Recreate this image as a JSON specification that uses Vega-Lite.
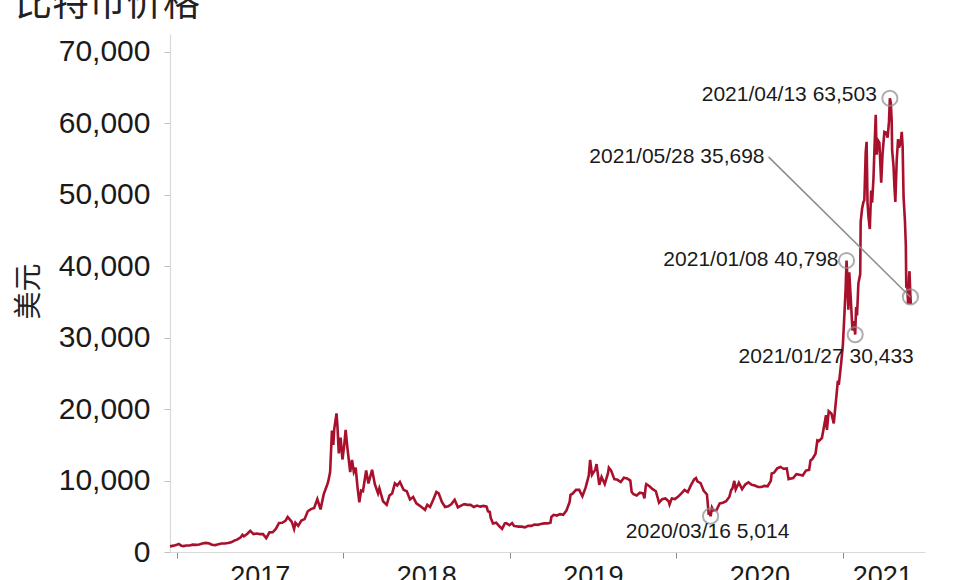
{
  "$schema": "https://vega.github.io/schema/vega-lite/v6.json",
  "width": 755,
  "height": 518,
  "autosize": {"type": "none"},
  "padding": {"left": 170, "top": 34, "right": 35, "bottom": 28},
  "background": "white",
  "config": {"view": {"stroke": null}},
  "title": {"text": "比特币价格", "anchor": "start", "offset": 10, "font": "Noto Sans CJK SC", "fontSize": 37, "fontWeight": "normal", "color": "#222222"},
  "datasets": {
    "prices": [
      {"d": "2016-12-17", "p": 790}, {"d": "2016-12-25", "p": 890}, {"d": "2017-01-01", "p": 1000}, {"d": "2017-01-05", "p": 1130},
      {"d": "2017-01-11", "p": 880}, {"d": "2017-01-15", "p": 820}, {"d": "2017-01-22", "p": 920}, {"d": "2017-01-29", "p": 920},
      {"d": "2017-02-05", "p": 1030}, {"d": "2017-02-12", "p": 1000}, {"d": "2017-02-19", "p": 1060}, {"d": "2017-02-26", "p": 1180},
      {"d": "2017-03-05", "p": 1270}, {"d": "2017-03-12", "p": 1230}, {"d": "2017-03-19", "p": 1020}, {"d": "2017-03-26", "p": 960},
      {"d": "2017-04-02", "p": 1100}, {"d": "2017-04-09", "p": 1190}, {"d": "2017-04-16", "p": 1180}, {"d": "2017-04-23", "p": 1250},
      {"d": "2017-04-30", "p": 1350}, {"d": "2017-05-07", "p": 1600}, {"d": "2017-05-14", "p": 1770}, {"d": "2017-05-21", "p": 2050},
      {"d": "2017-05-25", "p": 2400}, {"d": "2017-05-28", "p": 2200}, {"d": "2017-06-04", "p": 2520}, {"d": "2017-06-11", "p": 2960},
      {"d": "2017-06-18", "p": 2510}, {"d": "2017-06-25", "p": 2590}, {"d": "2017-07-02", "p": 2500}, {"d": "2017-07-09", "p": 2500},
      {"d": "2017-07-16", "p": 1930}, {"d": "2017-07-23", "p": 2750}, {"d": "2017-07-30", "p": 2760}, {"d": "2017-08-06", "p": 3230},
      {"d": "2017-08-13", "p": 4070}, {"d": "2017-08-20", "p": 4090}, {"d": "2017-08-27", "p": 4350}, {"d": "2017-09-01", "p": 4890},
      {"d": "2017-09-05", "p": 4600}, {"d": "2017-09-10", "p": 4230}, {"d": "2017-09-15", "p": 3230}, {"d": "2017-09-18", "p": 4100},
      {"d": "2017-09-24", "p": 3660}, {"d": "2017-10-01", "p": 4400}, {"d": "2017-10-08", "p": 4600}, {"d": "2017-10-15", "p": 5700},
      {"d": "2017-10-22", "p": 6000}, {"d": "2017-10-29", "p": 6150}, {"d": "2017-11-05", "p": 7400}, {"d": "2017-11-12", "p": 5950},
      {"d": "2017-11-19", "p": 8100}, {"d": "2017-11-26", "p": 9300}, {"d": "2017-11-29", "p": 9900}, {"d": "2017-12-03", "p": 11200},
      {"d": "2017-12-07", "p": 17000}, {"d": "2017-12-10", "p": 15000}, {"d": "2017-12-12", "p": 17200}, {"d": "2017-12-17", "p": 19400},
      {"d": "2017-12-19", "p": 17700}, {"d": "2017-12-22", "p": 13800}, {"d": "2017-12-26", "p": 16000}, {"d": "2017-12-30", "p": 12950},
      {"d": "2018-01-03", "p": 15000}, {"d": "2018-01-06", "p": 17100}, {"d": "2018-01-10", "p": 14500}, {"d": "2018-01-16", "p": 11200},
      {"d": "2018-01-20", "p": 12900}, {"d": "2018-01-24", "p": 11200}, {"d": "2018-01-28", "p": 11800}, {"d": "2018-02-01", "p": 9100},
      {"d": "2018-02-05", "p": 6950}, {"d": "2018-02-09", "p": 8600}, {"d": "2018-02-13", "p": 8500}, {"d": "2018-02-20", "p": 11400},
      {"d": "2018-02-25", "p": 9600}, {"d": "2018-03-05", "p": 11500}, {"d": "2018-03-11", "p": 9500}, {"d": "2018-03-18", "p": 8200},
      {"d": "2018-03-21", "p": 8900}, {"d": "2018-03-29", "p": 7100}, {"d": "2018-04-06", "p": 6600}, {"d": "2018-04-12", "p": 7900},
      {"d": "2018-04-18", "p": 8200}, {"d": "2018-04-24", "p": 9600}, {"d": "2018-04-29", "p": 9300}, {"d": "2018-05-05", "p": 9800},
      {"d": "2018-05-13", "p": 8700}, {"d": "2018-05-20", "p": 8500}, {"d": "2018-05-27", "p": 7350}, {"d": "2018-06-03", "p": 7700},
      {"d": "2018-06-10", "p": 6800}, {"d": "2018-06-17", "p": 6500}, {"d": "2018-06-24", "p": 6150}, {"d": "2018-06-29", "p": 5900},
      {"d": "2018-07-04", "p": 6600}, {"d": "2018-07-10", "p": 6300}, {"d": "2018-07-17", "p": 7300}, {"d": "2018-07-24", "p": 8400},
      {"d": "2018-07-29", "p": 8200}, {"d": "2018-08-05", "p": 7000}, {"d": "2018-08-12", "p": 6300}, {"d": "2018-08-19", "p": 6400},
      {"d": "2018-08-26", "p": 6700}, {"d": "2018-09-02", "p": 7300}, {"d": "2018-09-09", "p": 6250}, {"d": "2018-09-16", "p": 6500},
      {"d": "2018-09-23", "p": 6700}, {"d": "2018-09-30", "p": 6600}, {"d": "2018-10-07", "p": 6600}, {"d": "2018-10-14", "p": 6300},
      {"d": "2018-10-21", "p": 6500}, {"d": "2018-10-28", "p": 6350}, {"d": "2018-11-04", "p": 6450}, {"d": "2018-11-11", "p": 6350},
      {"d": "2018-11-14", "p": 5700}, {"d": "2018-11-18", "p": 5600}, {"d": "2018-11-20", "p": 4800}, {"d": "2018-11-25", "p": 4000},
      {"d": "2018-12-02", "p": 4100}, {"d": "2018-12-09", "p": 3600}, {"d": "2018-12-15", "p": 3250}, {"d": "2018-12-21", "p": 4000},
      {"d": "2018-12-24", "p": 4050}, {"d": "2018-12-31", "p": 3750}, {"d": "2019-01-06", "p": 4050}, {"d": "2019-01-10", "p": 3650},
      {"d": "2019-01-20", "p": 3550}, {"d": "2019-01-27", "p": 3550}, {"d": "2019-02-03", "p": 3450}, {"d": "2019-02-10", "p": 3650},
      {"d": "2019-02-17", "p": 3650}, {"d": "2019-02-24", "p": 3850}, {"d": "2019-03-03", "p": 3800}, {"d": "2019-03-10", "p": 3920},
      {"d": "2019-03-17", "p": 4000}, {"d": "2019-03-24", "p": 4000}, {"d": "2019-03-31", "p": 4100}, {"d": "2019-04-02", "p": 4900},
      {"d": "2019-04-07", "p": 5200}, {"d": "2019-04-14", "p": 5100}, {"d": "2019-04-21", "p": 5300}, {"d": "2019-04-28", "p": 5200},
      {"d": "2019-05-05", "p": 5800}, {"d": "2019-05-12", "p": 7000}, {"d": "2019-05-14", "p": 8000}, {"d": "2019-05-19", "p": 8200},
      {"d": "2019-05-26", "p": 8700}, {"d": "2019-06-02", "p": 8700}, {"d": "2019-06-09", "p": 7800}, {"d": "2019-06-16", "p": 9000},
      {"d": "2019-06-23", "p": 10700}, {"d": "2019-06-26", "p": 12900}, {"d": "2019-06-30", "p": 10800}, {"d": "2019-07-07", "p": 11500},
      {"d": "2019-07-10", "p": 12300}, {"d": "2019-07-16", "p": 9400}, {"d": "2019-07-21", "p": 10500}, {"d": "2019-07-28", "p": 9500},
      {"d": "2019-08-04", "p": 11000}, {"d": "2019-08-06", "p": 11800}, {"d": "2019-08-11", "p": 11400}, {"d": "2019-08-18", "p": 10200},
      {"d": "2019-08-25", "p": 10100}, {"d": "2019-09-01", "p": 9800}, {"d": "2019-09-08", "p": 10400}, {"d": "2019-09-15", "p": 10300},
      {"d": "2019-09-22", "p": 10000}, {"d": "2019-09-25", "p": 8400}, {"d": "2019-09-29", "p": 8100}, {"d": "2019-10-06", "p": 7900},
      {"d": "2019-10-13", "p": 8300}, {"d": "2019-10-20", "p": 8200}, {"d": "2019-10-23", "p": 7500}, {"d": "2019-10-26", "p": 9250},
      {"d": "2019-10-27", "p": 9500}, {"d": "2019-11-03", "p": 9200}, {"d": "2019-11-10", "p": 8800}, {"d": "2019-11-17", "p": 8500},
      {"d": "2019-11-24", "p": 6900}, {"d": "2019-12-01", "p": 7400}, {"d": "2019-12-08", "p": 7500}, {"d": "2019-12-15", "p": 7100},
      {"d": "2019-12-17", "p": 6640}, {"d": "2019-12-22", "p": 7500}, {"d": "2019-12-29", "p": 7400}, {"d": "2020-01-05", "p": 7750},
      {"d": "2020-01-12", "p": 8200}, {"d": "2020-01-19", "p": 8700}, {"d": "2020-01-26", "p": 8400}, {"d": "2020-02-02", "p": 9350},
      {"d": "2020-02-09", "p": 10150}, {"d": "2020-02-13", "p": 10350}, {"d": "2020-02-16", "p": 9900}, {"d": "2020-02-23", "p": 9650},
      {"d": "2020-03-01", "p": 8550}, {"d": "2020-03-08", "p": 8050}, {"d": "2020-03-12", "p": 5200}, {"d": "2020-03-13", "p": 5600},
      {"d": "2020-03-16", "p": 5014}, {"d": "2020-03-19", "p": 6200}, {"d": "2020-03-22", "p": 5830}, {"d": "2020-03-29", "p": 5880},
      {"d": "2020-04-05", "p": 6800}, {"d": "2020-04-12", "p": 6900}, {"d": "2020-04-19", "p": 7100}, {"d": "2020-04-26", "p": 7700},
      {"d": "2020-04-30", "p": 8650}, {"d": "2020-05-03", "p": 8900}, {"d": "2020-05-07", "p": 9950}, {"d": "2020-05-10", "p": 8750},
      {"d": "2020-05-17", "p": 9700}, {"d": "2020-05-24", "p": 8800}, {"d": "2020-05-31", "p": 9450}, {"d": "2020-06-07", "p": 9750},
      {"d": "2020-06-14", "p": 9400}, {"d": "2020-06-21", "p": 9300}, {"d": "2020-06-28", "p": 9100}, {"d": "2020-07-05", "p": 9100},
      {"d": "2020-07-12", "p": 9250}, {"d": "2020-07-19", "p": 9200}, {"d": "2020-07-26", "p": 9950}, {"d": "2020-07-28", "p": 11000},
      {"d": "2020-08-02", "p": 11100}, {"d": "2020-08-09", "p": 11700}, {"d": "2020-08-16", "p": 11900}, {"d": "2020-08-23", "p": 11650},
      {"d": "2020-08-30", "p": 11700}, {"d": "2020-09-03", "p": 10200}, {"d": "2020-09-06", "p": 10250}, {"d": "2020-09-13", "p": 10350},
      {"d": "2020-09-20", "p": 10900}, {"d": "2020-09-27", "p": 10800}, {"d": "2020-10-04", "p": 10700}, {"d": "2020-10-11", "p": 11400},
      {"d": "2020-10-18", "p": 11500}, {"d": "2020-10-21", "p": 12800}, {"d": "2020-10-25", "p": 13000}, {"d": "2020-11-01", "p": 13750},
      {"d": "2020-11-05", "p": 15600}, {"d": "2020-11-08", "p": 15500}, {"d": "2020-11-15", "p": 15950}, {"d": "2020-11-22", "p": 18400},
      {"d": "2020-11-24", "p": 19150}, {"d": "2020-11-26", "p": 17100}, {"d": "2020-11-30", "p": 19700}, {"d": "2020-12-06", "p": 19350},
      {"d": "2020-12-11", "p": 18000}, {"d": "2020-12-16", "p": 21300}, {"d": "2020-12-20", "p": 24000}, {"d": "2020-12-22", "p": 23400},
      {"d": "2020-12-27", "p": 26300}, {"d": "2020-12-31", "p": 29000}, {"d": "2021-01-03", "p": 32800}, {"d": "2021-01-06", "p": 36800},
      {"d": "2021-01-08", "p": 40798}, {"d": "2021-01-10", "p": 38300}, {"d": "2021-01-11", "p": 35500}, {"d": "2021-01-12", "p": 33900},
      {"d": "2021-01-14", "p": 39150}, {"d": "2021-01-17", "p": 35800}, {"d": "2021-01-21", "p": 31000}, {"d": "2021-01-24", "p": 32300},
      {"d": "2021-01-27", "p": 30433}, {"d": "2021-01-29", "p": 34300}, {"d": "2021-01-31", "p": 33100}, {"d": "2021-02-03", "p": 37600},
      {"d": "2021-02-07", "p": 38900}, {"d": "2021-02-08", "p": 46200}, {"d": "2021-02-11", "p": 48000}, {"d": "2021-02-14", "p": 49000},
      {"d": "2021-02-16", "p": 49200}, {"d": "2021-02-19", "p": 55900}, {"d": "2021-02-21", "p": 57400}, {"d": "2021-02-23", "p": 48900},
      {"d": "2021-02-25", "p": 47000}, {"d": "2021-02-28", "p": 45200}, {"d": "2021-03-03", "p": 50600}, {"d": "2021-03-05", "p": 48900},
      {"d": "2021-03-08", "p": 52200}, {"d": "2021-03-10", "p": 56000}, {"d": "2021-03-13", "p": 61200}, {"d": "2021-03-15", "p": 55600},
      {"d": "2021-03-18", "p": 57600}, {"d": "2021-03-21", "p": 57300}, {"d": "2021-03-25", "p": 51700}, {"d": "2021-03-28", "p": 55800},
      {"d": "2021-04-01", "p": 58800}, {"d": "2021-04-05", "p": 58700}, {"d": "2021-04-08", "p": 58000}, {"d": "2021-04-11", "p": 60200},
      {"d": "2021-04-13", "p": 63503}, {"d": "2021-04-15", "p": 62900}, {"d": "2021-04-17", "p": 60300}, {"d": "2021-04-18", "p": 56200},
      {"d": "2021-04-21", "p": 54000}, {"d": "2021-04-23", "p": 51100}, {"d": "2021-04-25", "p": 49000}, {"d": "2021-04-28", "p": 54800},
      {"d": "2021-05-01", "p": 57800}, {"d": "2021-05-03", "p": 56600}, {"d": "2021-05-07", "p": 57400}, {"d": "2021-05-09", "p": 58800},
      {"d": "2021-05-11", "p": 56700}, {"d": "2021-05-13", "p": 49700}, {"d": "2021-05-16", "p": 46400}, {"d": "2021-05-18", "p": 42900},
      {"d": "2021-05-19", "p": 37000}, {"d": "2021-05-21", "p": 37500}, {"d": "2021-05-23", "p": 34700}, {"d": "2021-05-25", "p": 38400},
      {"d": "2021-05-26", "p": 39300}, {"d": "2021-05-28", "p": 35698}, {"d": "2021-05-29", "p": 34700}
    ],
    "notes": [
      {"d": "2020-03-16", "p": 5014, "label": "2020/03/16 5,014"},
      {"d": "2021-01-08", "p": 40798, "label": "2021/01/08 40,798"},
      {"d": "2021-01-27", "p": 30433, "label": "2021/01/27 30,433"},
      {"d": "2021-04-13", "p": 63503, "label": "2021/04/13 63,503"},
      {"d": "2021-05-28", "p": 35698, "label": "2021/05/28 35,698"}
    ]
  },
  "encoding": {
    "x": {"field": "d", "type": "temporal", "scale": {"domain": ["2016-12-17", "2021-06-29"]},
      "axis": {"title": null, "format": "%Y", "grid": false,
        "values": [{"year": 2017, "month": 1, "date": 1}, {"year": 2018, "month": 1, "date": 1}, {"year": 2019, "month": 1, "date": 1}, {"year": 2020, "month": 1, "date": 1}, {"year": 2021, "month": 1, "date": 1}],
        "domainColor": "#d9d9d9", "domainWidth": 1.2, "tickColor": "#8c8c8c", "tickSize": 6, "tickWidth": 1,
        "labelFont": "Liberation Sans", "labelFontSize": 27, "labelColor": "#1a1a1a", "labelPadding": 5, "labelAlign": "center",
        "labelOffset": {"condition": {"test": "year(datum.value) == 2021", "value": 39}, "value": 83}}},
    "y": {"field": "p", "type": "quantitative", "scale": {"domain": [0, 72500], "nice": false},
      "axis": {"title": "美元", "grid": false, "values": [0, 10000, 20000, 30000, 40000, 50000, 60000, 70000], "labelExpr": "format(datum.value, ',')",
        "domainColor": "#d9d9d9", "domainWidth": 1.2, "tickColor": "#bfbfbf", "tickSize": 6,
        "labelFont": "Liberation Sans", "labelFontSize": 30, "labelColor": "#1a1a1a", "labelPadding": 14,
        "titleFont": "Noto Sans CJK SC", "titleFontSize": 28, "titleFontWeight": "normal", "titleColor": "#222222",
        "titleX": -141, "titleY": 257, "titleBaseline": "middle", "titleAngle": -90}}
  },
  "layer": [
    {"data": {"name": "prices"}, "mark": {"type": "line", "color": "#a8102c", "strokeWidth": 2.6, "interpolate": "linear"}},
    {"data": {"name": "notes"}, "mark": {"type": "point", "shape": "circle", "filled": false, "stroke": "#8c8c8c", "strokeWidth": 2, "size": 230}},
    {"data": {"name": "notes"}, "transform": [{"filter": "datum.label == '2021/04/13 63,503'"}],
      "mark": {"type": "text", "align": "right", "baseline": "middle", "dx": -13, "dy": -3, "font": "Liberation Sans", "fontSize": 21, "color": "#1a1a1a"},
      "encoding": {"text": {"field": "label"}}},
    {"data": {"name": "notes"}, "transform": [{"filter": "datum.label == '2021/01/08 40,798'"}],
      "mark": {"type": "text", "align": "right", "baseline": "middle", "dx": -8, "dy": -1, "font": "Liberation Sans", "fontSize": 21, "color": "#1a1a1a"},
      "encoding": {"text": {"field": "label"}}},
    {"data": {"name": "notes"}, "transform": [{"filter": "datum.label == '2021/01/27 30,433'"}],
      "mark": {"type": "text", "align": "center", "baseline": "middle", "dx": -29, "dy": 22, "font": "Liberation Sans", "fontSize": 21, "color": "#1a1a1a"},
      "encoding": {"text": {"field": "label"}}},
    {"data": {"name": "notes"}, "transform": [{"filter": "datum.label == '2020/03/16 5,014'"}],
      "mark": {"type": "text", "align": "center", "baseline": "middle", "dx": -3, "dy": 16, "font": "Liberation Sans", "fontSize": 21, "color": "#1a1a1a"},
      "encoding": {"text": {"field": "label"}}},
    {"data": {"name": "notes"}, "transform": [{"filter": "datum.label == '2021/05/28 35,698'"}],
      "mark": {"type": "rule", "color": "#8c8c8c", "strokeWidth": 1.5},
      "encoding": {"x2": {"datum": {"year": 2020, "month": 7, "date": 21}}, "y2": {"datum": 55300}}},
    {"data": {"name": "notes"}, "transform": [{"filter": "datum.label == '2021/05/28 35,698'"}],
      "mark": {"type": "text", "align": "right", "baseline": "middle", "dx": -4, "font": "Liberation Sans", "fontSize": 21, "color": "#1a1a1a"},
      "encoding": {"x": {"datum": {"year": 2020, "month": 7, "date": 21}}, "y": {"datum": 55300}, "text": {"field": "label"}}}
  ]
}
